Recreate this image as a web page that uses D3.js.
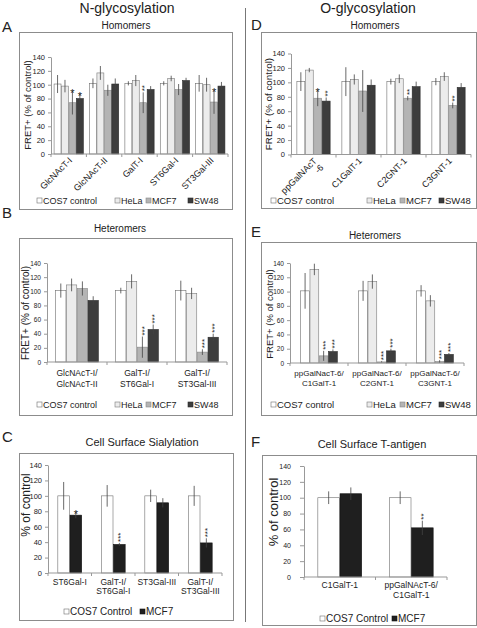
<!DOCTYPE html>
<html><head><meta charset="utf-8">
<script src="https://cdn.jsdelivr.net/npm/d3@7"></script>
<style>
body{margin:0;background:#fff}
svg{display:block}
text{font-family:"Liberation Sans",Arial,sans-serif;fill:#222}
</style>
</head><body>
<svg id="c" width="477" height="628"></svg>
<script>
// ---------- shared ----------
const yTicks = [0, 20, 40, 60, 80, 100, 120, 140];
const series4 = ["COS7 control", "HeLa", "MCF7", "SW48"];
const series2 = ["COS7 Control", "MCF7"];

// ---------- Panel A: N-glycosylation homomers ----------
const catsA = ["GlcNAcT-I", "GlcNAcT-II", "GalT-I", "ST6Gal-I", "ST3Gal-III"];
const cos7A = [101, 102, 102, 102, 102];
const helaA = [98, 117, 106, 109, 100];
const mcf7A = [74, 92, 74, 93, 75];
const sw48A = [80, 101, 93, 106, 98];
const cos7ErrA = [13, 7, 3, 3, 12];
const helaErrA = [9, 10, 8, 4, 10];
const mcf7ErrA = [17, 8, 15, 8, 17];
const sw48ErrA = [7, 8, 5, 4, 6];
const mcf7SigA = ["*", "", "**", "", "*"];
const sw48SigA = ["*", "", "", "", ""];

// ---------- Panel B: N-glycosylation heteromers ----------
const catsB = ["GlcNAcT-I/\nGlcNAcT-II", "GalT-I/\nST6Gal-I", "GalT-I/\nST3Gal-III"];
const cos7B = [101, 101, 101];
const helaB = [109, 114, 97];
const mcf7B = [104, 21, 14];
const sw48B = [87, 46, 35];
const cos7ErrB = [10, 4, 14];
const helaErrB = [9, 10, 8];
const mcf7ErrB = [10, 15, 4];
const sw48ErrB = [6, 7, 5];
const mcf7SigB = ["", "***", "***"];
const sw48SigB = ["", "***", "***"];

// ---------- Panel C: cell surface sialylation ----------
const catsC = ["ST6Gal-I", "GalT-I/\nST6Gal-I", "ST3Gal-III", "GalT-I/\nST3Gal-III"];
const cos7C = [100, 100, 100, 100];
const mcf7C = [75, 37, 91, 39];
const cos7ErrC = [18, 14, 8, 13];
const mcf7ErrC = [4, 2, 6, 6];
const mcf7SigC = ["*", "***", "", "***"];

// ---------- Panel D: O-glycosylation homomers ----------
const catsD = ["ppGalNAcT\n-6", "C1GalT-1", "C2GNT-1", "C3GNT-1"];
const cos7D = [101, 101, 101, 101];
const helaD = [117, 104, 105, 108];
const mcf7D = [78, 88, 78, 68];
const sw48D = [74, 96, 94, 93];
const cos7ErrD = [13, 20, 4, 5];
const helaErrD = [3, 7, 6, 6];
const mcf7ErrD = [11, 29, 3, 4];
const sw48ErrD = [5, 8, 7, 6];
const mcf7SigD = ["*", "", "**", "**"];
const sw48SigD = ["**", "", "", ""];

// ---------- Panel E: O-glycosylation heteromers ----------
const catsE = ["ppGalNacT-6/\nC1GalT-1", "ppGalNacT-6/\nC2GNT-1", "ppGalNacT-6/\nC3GNT-1"];
const cos7E = [101, 101, 101];
const helaE = [131, 114, 87];
const mcf7E = [10, 1.5, 2];
const sw48E = [16, 17, 12];
const cos7ErrE = [25, 14, 8];
const helaErrE = [8, 10, 8];
const mcf7ErrE = [7, 1, 2];
const sw48ErrE = [3, 3, 2];
const mcf7SigE = ["***", "***", "***"];
const sw48SigE = ["***", "***", "***"];

// ---------- Panel F: cell surface T-antigen ----------
const catsF = ["C1GalT-1", "ppGalNAcT-6/\nC1GalT-1"];
const cos7F = [100, 100];
const mcf7F = [105, 62];
const cos7ErrF = [8, 8];
const mcf7ErrF = [8, 9];
const mcf7SigF = ["", "**"];

// ---------- drawing ----------
const svg = d3.select("#c");
const fill4 = ["#ffffff", "#ececec", "#b4b4b4", "#3d3d3d"];
const stroke4 = ["#6e6e6e", "#7a7a7a", "#888888", "#2a2a2a"];
const fill2 = ["#ffffff", "#1f1f1f"];
const stroke2 = ["#6e6e6e", "#111111"];

function txt(g, x, y, s, size, anchor) {
  return g.append("text").attr("x", x).attr("y", y).attr("font-size", size)
    .attr("text-anchor", anchor || "start").text(s);
}

function panel(p) {
  const g = svg.append("g");
  g.append("rect").attr("x", p.box[0] + 0.5).attr("y", p.box[1] + 0.5)
    .attr("width", p.box[2] - p.box[0]).attr("height", p.box[3] - p.box[1])
    .attr("fill", "none").attr("stroke", "#8c8c8c").attr("stroke-width", 1);
  txt(g, p.letter[1], p.letter[2], p.letter[0], 15);
  txt(g, p.title[1], p.title[2], p.title[0], p.title[3], "middle");

  const y = d3.scaleLinear().domain([0, 140]).range([p.y0, p.y140]);
  const x = d3.scaleBand().domain(p.cats).range([p.x0, p.x1]);
  const bw = x.bandwidth();
  const inner = d3.scaleBand().domain(d3.range(p.values.length))
    .range([(1 - p.fill) / 2 * bw, (1 + p.fill) / 2 * bw]);

  // y axis
  const ya = g.append("g").attr("transform", `translate(${p.x0},0)`)
    .call(d3.axisLeft(y).tickValues(yTicks).tickSize(p.tickSize || 3)
      .tickPadding(p.tickPad || 3).tickSizeOuter(0));
  ya.select(".domain").attr("stroke", "#999");
  ya.selectAll(".tick line").attr("stroke", "#999");
  ya.selectAll(".tick text").attr("font-size", p.tickFont).attr("fill", "#333")
    .attr("font-family", "Liberation Sans, Arial, sans-serif");

  // y title
  g.append("text").attr("transform", `translate(${p.yTitle[0]},${p.yTitle[1]}) rotate(-90)`)
    .attr("text-anchor", "middle").attr("dominant-baseline", "central")
    .attr("font-size", p.yTitleFont).text(p.yTitleText);

  // bars
  p.values.forEach((vals, si) => {
    const col = p.colors[si], st = p.strokes[si];
    g.selectAll(null).data(p.cats).enter().append("rect")
      .attr("x", c => x(c) + inner(si) + 0.25)
      .attr("y", (c, i) => y(vals[i]))
      .attr("width", inner.bandwidth() - 0.5)
      .attr("height", (c, i) => y(0) - y(vals[i]))
      .attr("fill", col).attr("stroke", st).attr("stroke-width", 0.6);
    const errs = p.errs[si];
    g.selectAll(null).data(p.cats).enter().append("line")
      .attr("x1", c => x(c) + inner(si) + inner.bandwidth() / 2)
      .attr("x2", c => x(c) + inner(si) + inner.bandwidth() / 2)
      .attr("y1", (c, i) => y(vals[i] + errs[i]))
      .attr("y2", (c, i) => y(Math.max(0, vals[i] - errs[i])))
      .attr("stroke", "#444").attr("stroke-width", 0.8);
    const sigs = p.sigs[si];
    if (sigs) {
      p.cats.forEach((c, i) => {
        const s = sigs[i];
        if (!s) return;
        const cx = x(c) + inner(si) + inner.bandwidth() / 2;
        const ty = y(vals[i] + errs[i]);
        if (s.length === 1) {
          g.append("text").attr("x", cx).attr("y", ty + 6).attr("text-anchor", "middle")
            .attr("font-size", 11).attr("fill", "#111").text(s);
        } else {
          g.append("text").attr("transform", `translate(${cx},${ty - 1}) rotate(-90)`)
            .attr("text-anchor", "start").attr("dominant-baseline", "central")
            .attr("font-size", 8).attr("dy", "0.2em").attr("fill", "#111").text(s);
        }
      });
    }
  });

  // x axis
  g.append("line").attr("x1", p.x0).attr("x2", p.x1).attr("y1", y(0)).attr("y2", y(0))
    .attr("stroke", "#999");
  const bounds = p.cats.map(c => x(c)).concat([x(p.cats[p.cats.length - 1]) + bw]);
  g.selectAll(null).data(bounds).enter().append("line")
    .attr("x1", d => d).attr("x2", d => d).attr("y1", y(0)).attr("y2", y(0) + 3)
    .attr("stroke", "#999");

  // category labels
  p.cats.forEach(c => {
    const cx = x(c) + bw / 2;
    const lines = c.split("\n");
    if (p.rot) {
      const t = g.append("text")
        .attr("transform", `translate(${cx + 4},${y(0) + 7}) rotate(-45)`)
        .attr("text-anchor", "end").attr("font-size", p.catFont);
      lines.forEach((l, li) => {
        t.append("tspan").attr("x", 0).attr("dy", li === 0 ? "0em" : "1.05em").text(l);
      });
    } else {
      lines.forEach((l, li) => {
        txt(g, cx, p.catY[li], l, p.catFont, "middle");
      });
    }
  });

  // legend
  p.legend.items.forEach((it, i) => {
    g.append("rect").attr("x", it).attr("y", p.legend.y - 6).attr("width", 5).attr("height", 5)
      .attr("fill", p.colors[i]).attr("stroke", p.strokes[i]).attr("stroke-width", 0.6);
    txt(g, it + 6, p.legend.y, p.names[i], p.legend.font);
  });
}

// section titles and divider
txt(svg, 127, 13, "N-glycosylation", 14, "middle");
txt(svg, 368, 13, "O-glycosylation", 14, "middle");
svg.append("line").attr("x1", 245.5).attr("x2", 245.5).attr("y1", 8).attr("y2", 622)
  .attr("stroke", "#777").attr("stroke-width", 1);

panel({
  box: [19, 32, 232, 209], letter: ["A", 2, 32], title: ["Homomers", 126, 29, 10],
  cats: catsA, values: [cos7A, helaA, mcf7A, sw48A], errs: [cos7ErrA, helaErrA, mcf7ErrA, sw48ErrA],
  sigs: [null, null, mcf7SigA, sw48SigA], colors: fill4, strokes: stroke4, names: series4,
  x0: 51, x1: 228, y0: 154, y140: 57, fill: 0.84, tickFont: 7.5, catFont: 9, rot: true,
  yTitle: [27, 105], yTitleFont: 9.5, yTitleText: "FRET+ (% of control)",
  legend: { y: 204, items: [37, 115, 146, 188], font: 9 }
});

panel({
  box: [19, 238, 232, 415], letter: ["B", 2, 218], title: ["Heteromers", 120, 232, 10],
  cats: catsB, values: [cos7B, helaB, mcf7B, sw48B], errs: [cos7ErrB, helaErrB, mcf7ErrB, sw48ErrB],
  sigs: [null, null, mcf7SigB, sw48SigB], colors: fill4, strokes: stroke4, names: series4,
  x0: 47, x1: 227, y0: 362, y140: 263, fill: 0.72, tickFont: 6.5, catFont: 8.5, rot: false, catY: [376, 387],
  yTitle: [25, 313], yTitleFont: 10, yTitleText: "FRET+ (% of control)",
  legend: { y: 408, items: [37, 115, 146, 188], font: 9 }
});

panel({
  box: [19, 453, 233, 620], letter: ["C", 2, 442], title: ["Cell Surface Sialylation", 142, 446, 11],
  cats: catsC, values: [cos7C, mcf7C], errs: [cos7ErrC, mcf7ErrC],
  sigs: [null, mcf7SigC], colors: fill2, strokes: stroke2, names: series2,
  x0: 48, x1: 222, y0: 573, y140: 465, fill: 0.56, tickFont: 7.5, catFont: 8.5, rot: false, catY: [585, 594],
  yTitle: [26, 505], yTitleFont: 12, yTitleText: "% of control",
  legend: { y: 615, items: [64, 140], font: 10 }
});

panel({
  box: [261, 32, 476, 208], letter: ["D", 251, 30], title: ["Homomers", 375, 29, 10],
  cats: catsD, values: [cos7D, helaD, mcf7D, sw48D], errs: [cos7ErrD, helaErrD, mcf7ErrD, sw48ErrD],
  sigs: [null, null, mcf7SigD, sw48SigD], colors: fill4, strokes: stroke4, names: series4,
  x0: 291, x1: 471, y0: 154.5, y140: 53.5, fill: 0.75, tickFont: 7.5, catFont: 9, rot: true,
  yTitle: [268, 104], yTitleFont: 9.8, yTitleText: "FRET+ (% of control)",
  legend: { y: 204, items: [271, 367, 400, 439], font: 9.5 }
});

panel({
  box: [261, 242, 476, 415], letter: ["E", 251, 237], title: ["Heteromers", 375, 239, 10],
  cats: catsE, values: [cos7E, helaE, mcf7E, sw48E], errs: [cos7ErrE, helaErrE, mcf7ErrE, sw48ErrE],
  sigs: [null, null, mcf7SigE, sw48SigE], colors: fill4, strokes: stroke4, names: series4,
  x0: 290, x1: 464, y0: 363, y140: 263, fill: 0.64, tickFont: 6.5, catFont: 8, rot: false, catY: [376, 386],
  yTitle: [269, 314], yTitleFont: 9.5, yTitleText: "FRET+ (% of control)",
  legend: { y: 408, items: [271, 367, 400, 439], font: 9.5 }
});

panel({
  box: [262, 455, 476, 625], letter: ["F", 251, 447], title: ["Cell Surface T-antigen", 372, 448, 11],
  cats: catsF, values: [cos7F, mcf7F], errs: [cos7ErrF, mcf7ErrF],
  sigs: [null, mcf7SigF], colors: fill2, strokes: stroke2, names: series2,
  x0: 304, x1: 447, y0: 577, y140: 466, fill: 0.62, tickFont: 7, catFont: 8.5, rot: false, catY: [588, 598],
  tickSize: 4, tickPad: 9,
  yTitle: [273, 512], yTitleFont: 13, yTitleText: "% of control",
  legend: { y: 622, items: [320, 392], font: 10 }
});
</script>
</body></html>
